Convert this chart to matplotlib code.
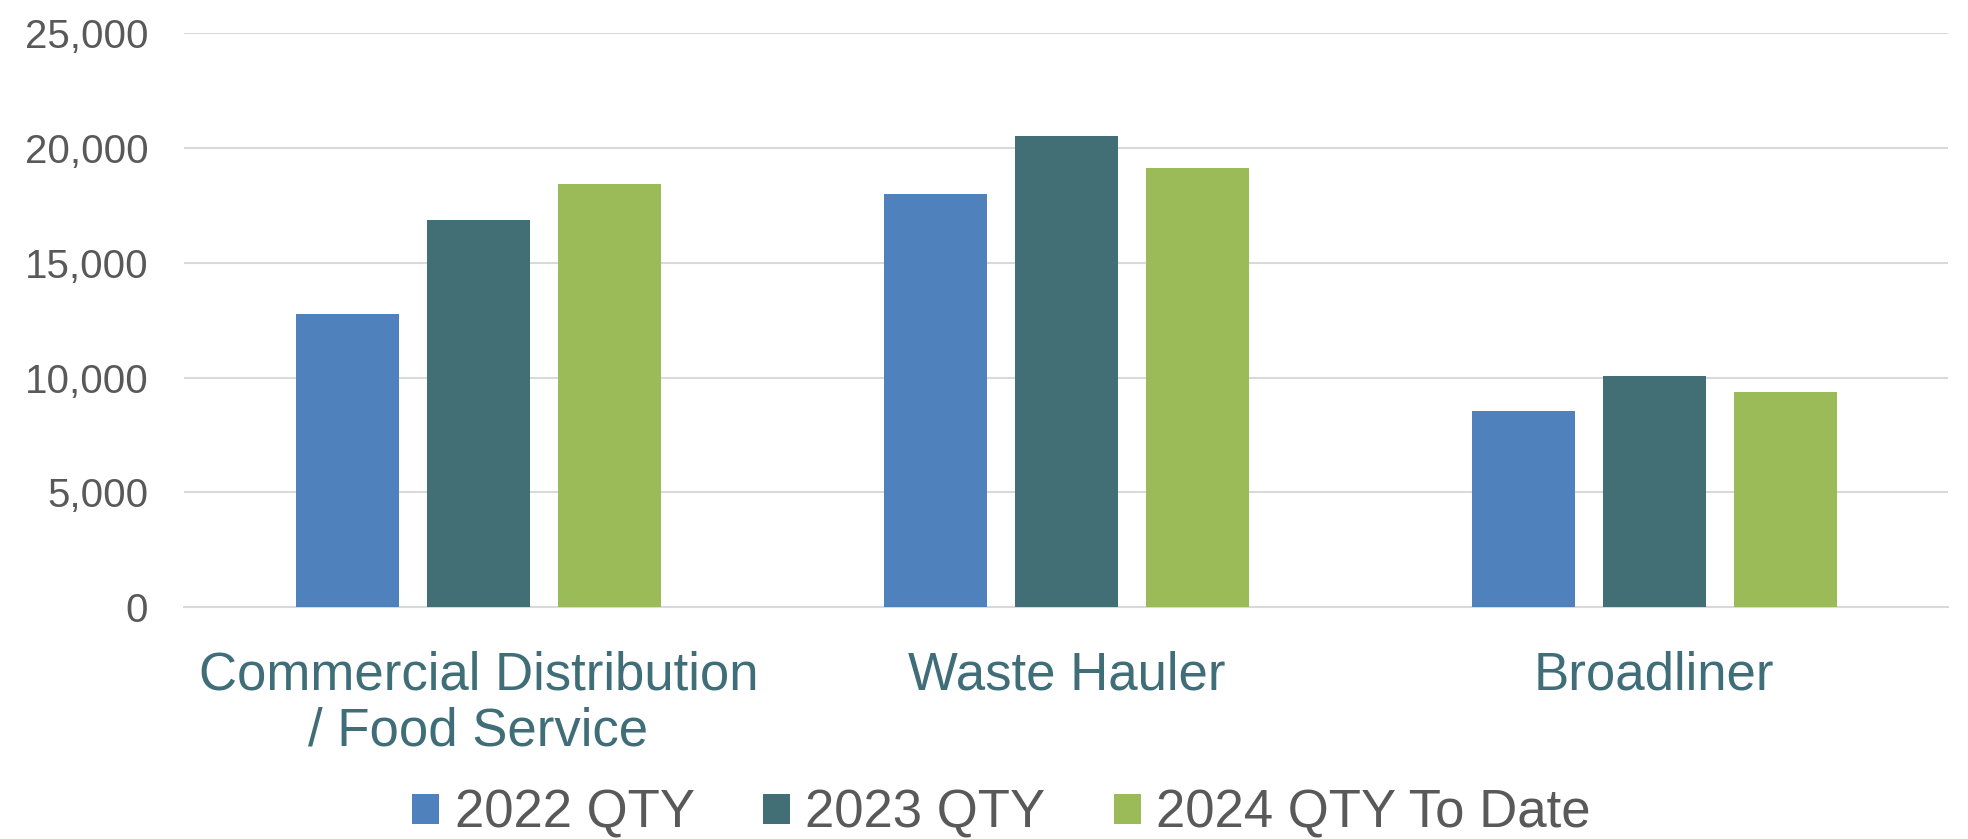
import matplotlib
matplotlib.use("Agg")
import matplotlib.pyplot as plt
import numpy as np
from matplotlib.ticker import FuncFormatter

categories = ["Commercial Distribution\n/ Food Service", "Waste Hauler", "Broadliner"]
series_names = ["2022 QTY", "2023 QTY", "2024 QTY To Date"]
qty_2022 = [12750, 18000, 8530]
qty_2023 = [16860, 20500, 10080]
qty_2024 = [18440, 19100, 9390]
colors = ["#4F81BD", "#426E76", "#9BBB59"]

plt.rcParams['font.family'] = ['Liberation Sans', 'DejaVu Sans']

fig = plt.figure(figsize=(19.68, 8.39), dpi=100)
ax = fig.add_axes([0.0937, 0.276, 0.8963, 0.685])

x = np.arange(len(categories))
bw = 0.1756
step = 0.2227
for i, (vals, name, c) in enumerate(zip([qty_2022, qty_2023, qty_2024], series_names, colors)):
    ax.bar(x + (i - 1) * step, vals, width=bw, color=c, label=name, zorder=3)

ax.set_xlim(-0.5, 2.5)
ax.set_ylim(0, 25000)
ax.set_yticks(np.arange(0, 25001, 5000))
ax.yaxis.set_major_formatter(FuncFormatter(lambda v, p: f"{int(v):,}"))
ax.grid(axis='y', color='#D9D9D9', linewidth=1.5, zorder=0)
for s in ['top', 'right', 'left']:
    ax.spines[s].set_visible(False)
ax.spines['bottom'].set_color('#D9D9D9')
ax.spines['bottom'].set_linewidth(1.5)
ax.tick_params(axis='y', length=0, pad=26, labelsize=29, labelcolor='#595959')
ax.tick_params(axis='x', length=0, pad=31, labelsize=38, labelcolor='#3F6E78')
ax.set_xticks(x)
ax.set_xticklabels(categories, linespacing=1.15)

leg = fig.legend(loc='center', bbox_to_anchor=(0.509, 0.03), ncol=3, frameon=False,
                 fontsize=38, handlelength=0.5, handleheight=0.5, handletextpad=0.3,
                 columnspacing=1.3, labelcolor='#595959')

fig.savefig("out.png", dpi=100)
